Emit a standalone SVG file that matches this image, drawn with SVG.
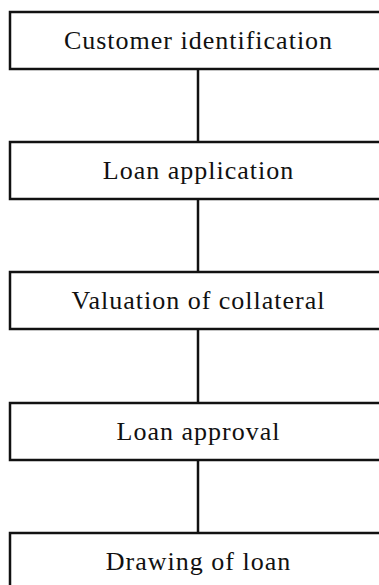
<svg xmlns="http://www.w3.org/2000/svg" width="379" height="585" viewBox="0 0 379 585">
<style>
.box{fill:#fff;stroke:#111;stroke-width:2.5}
.lbl{font-family:"Liberation Serif","Times New Roman",serif;font-size:26px;letter-spacing:1px;fill:#111;text-anchor:middle}
.con{stroke:#111;stroke-width:2.5;fill:none}
</style>
<rect width="379" height="585" fill="#fff"/>
<g id="connectors">
<line class="con" x1="198" y1="69" x2="198" y2="142"/>
<line class="con" x1="198" y1="199" x2="198" y2="272"/>
<line class="con" x1="198" y1="329" x2="198" y2="403"/>
<line class="con" x1="198" y1="460" x2="198" y2="533"/>
</g>
<g id="n1"><rect class="box" x="10" y="12" width="380" height="57"/><text class="lbl" x="198.5" y="49">Customer identification</text></g>
<g id="n2"><rect class="box" x="10" y="142" width="380" height="57"/><text class="lbl" x="198.5" y="179">Loan application</text></g>
<g id="n3"><rect class="box" x="10" y="272" width="380" height="57"/><text class="lbl" x="198.5" y="309">Valuation of collateral</text></g>
<g id="n4"><rect class="box" x="10" y="403" width="380" height="57"/><text class="lbl" x="198.5" y="440">Loan approval</text></g>
<g id="n5"><rect class="box" x="10" y="533" width="380" height="57"/><text class="lbl" x="198.5" y="570">Drawing of loan</text></g>
</svg>
